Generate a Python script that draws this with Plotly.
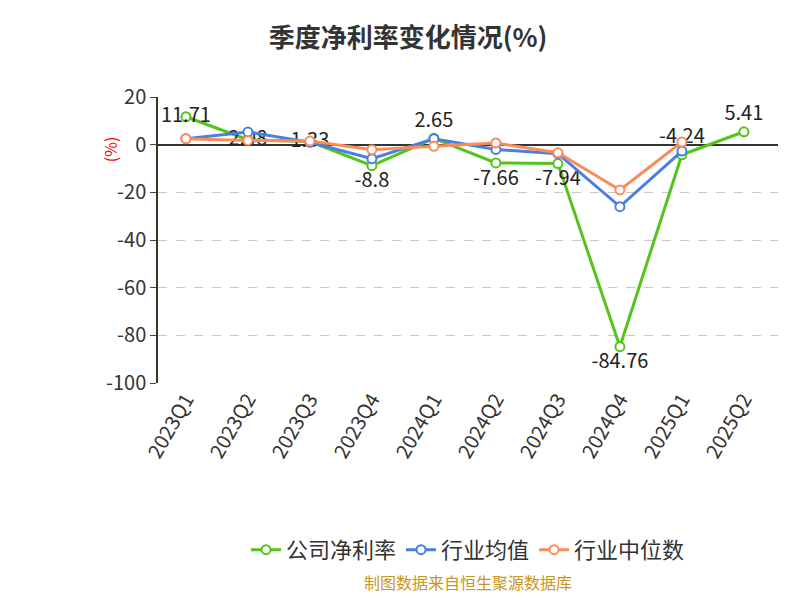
import plotly.graph_objects as go

quarters = ["2023Q1","2023Q2","2023Q3","2023Q4","2024Q1","2024Q2","2024Q3","2024Q4","2025Q1","2025Q2"]
company = [11.71, 2.08, 1.33, -8.8, 2.65, -7.66, -7.94, -84.76, -4.24, 5.41]
industry_avg = [2.5, 5.3, 1.0, -5.9, 2.5, -2.0, -3.8, -26.0, -2.7, None]
industry_med = [2.5, 1.8, 1.5, -2.1, -0.7, 0.7, -3.4, -19.0, 1.1, None]
labels = ["11.71","2.08","1.33","-8.8","2.65","-7.66","-7.94","-84.76","-4.24","5.41"]
ytickvals = [20, 0, -20, -40, -60, -80, -100]
yticktext = ["20", "0", "-20", "-40", "-60", "-80", "-100"]

fig = go.Figure()
mk = dict(size=9, color="white")
fig.add_trace(go.Scatter(x=quarters, y=company, name="公司净利率", mode="lines+markers+text",
    text=labels, textfont=dict(size=20, color="#222"),
    textposition=["middle center","middle center","middle center","bottom center","top center",
                  "bottom center","bottom center","bottom center","top center","top center"],
    line=dict(color="#52c41a", width=3), marker=dict(mk, line=dict(color="#52c41a", width=2))))
fig.add_trace(go.Scatter(x=quarters, y=industry_avg, name="行业均值", mode="lines+markers",
    line=dict(color="#4a7fe0", width=3), marker=dict(mk, line=dict(color="#4a7fe0", width=2))))
fig.add_trace(go.Scatter(x=quarters, y=industry_med, name="行业中位数", mode="lines+markers",
    line=dict(color="#fa8c5a", width=3), marker=dict(mk, line=dict(color="#fa8c5a", width=2))))

fig.update_layout(
    width=800, height=600, plot_bgcolor="white", paper_bgcolor="white",
    font=dict(family="Noto Sans CJK SC, Noto Sans", size=20, color="#333"),
    title=dict(text="<b>季度净利率变化情况(%)</b>", x=0.5, y=0.965, xanchor="center",
               font=dict(size=26, color="#333", family="Noto Sans CJK SC")),
    margin=dict(l=150, r=30, t=89, b=225, autoexpand=False),
    legend=dict(orientation="h", x=0.5, xanchor="center", y=-0.51, yanchor="top",
                font=dict(size=22, color="#333")),
    showlegend=True,
    annotations=[
        dict(text="(%)", x=-0.1, y=0.87, xref="paper", yref="paper", textangle=-90,
             showarrow=False, font=dict(size=16, color="red")),
        dict(text="制图数据来自恒生聚源数据库", x=0.5, y=-0.745, xref="paper", yref="paper",
             showarrow=False, font=dict(size=16, color="#c8961e")),
    ],
)
fig.update_xaxes(type="category", range=[-0.45, 9.55], showgrid=False, tickangle=-60,
                 tickfont=dict(size=20, color="#333"), showline=False, ticks="", automargin=False)
fig.update_yaxes(range=[-100, 20], tickvals=ytickvals, ticktext=yticktext, showgrid=True,
                 gridcolor="#c8c8c8", griddash="dash", automargin=False,
                 showline=True, linecolor="#333", linewidth=1.5, ticks="outside", ticklen=6,
                 zeroline=True, zerolinecolor="#333", zerolinewidth=1.5,
                 tickfont=dict(size=20, color="#333"))
fig.write_html("out.html")
